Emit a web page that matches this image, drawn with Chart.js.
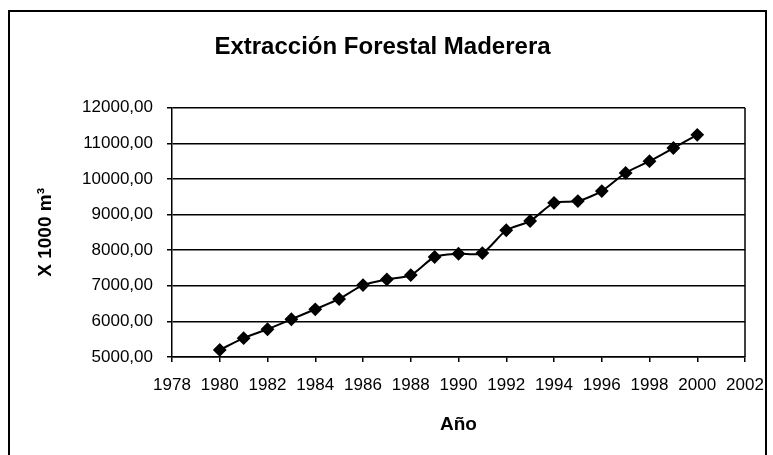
<!DOCTYPE html>
<html>
<head>
<meta charset="utf-8">
<script src="https://cdn.jsdelivr.net/npm/chart.js@4/dist/chart.umd.min.js"></script>
<style>
  html, body { margin: 0; padding: 0; background: #fff; }
  #wrap { width: 773px; height: 455px; position: relative; }
</style>
</head>
<body>
<div id="wrap"><canvas id="c" width="773" height="455"></canvas></div>
<script>
const years = [1980,1981,1982,1983,1984,1985,1986,1987,1988,1989,1990,1991,1992,1993,1994,1995,1996,1997,1998,1999,2000];
const extraction = [5200,5530,5780,6060,6340,6630,7020,7180,7300,7810,7900,7920,8560,8820,9330,9380,9660,10170,10500,10870,11240];
const chartTitle = 'Extracción Forestal Maderera';
const xTitle = 'Año';
const yTitle = 'X 1000 m³';

const FONT = '"Liberation Sans", Arial, sans-serif';

const outerBorder = {
  id: 'outerBorder',
  beforeDraw(chart) {
    const ctx = chart.ctx;
    ctx.save();
    ctx.fillStyle = '#fff';
    ctx.fillRect(0, 0, chart.width, chart.height);
    ctx.strokeStyle = '#000';
    ctx.lineWidth = 2;
    ctx.strokeRect(9, 11, 757, 460);
    ctx.restore();
  },
  afterDatasetsDraw(chart) {
    const {ctx, chartArea: a} = chart;
    ctx.save();
    ctx.strokeStyle = '#000';
    ctx.lineWidth = 1.5;
    ctx.beginPath();
    ctx.moveTo(a.right, a.top);
    ctx.lineTo(a.right, a.bottom);
    ctx.stroke();
    ctx.restore();
  }
};

new Chart(document.getElementById('c'), {
  type: 'line',
  data: {
    datasets: [{
      data: years.map((y, i) => ({x: y, y: extraction[i]})),
      borderColor: '#000',
      backgroundColor: '#000',
      borderWidth: 2,
      pointStyle: 'rectRot',
      pointRadius: 5.5,
      pointHoverRadius: 5.5,
      tension: 0.25,
      fill: false
    }]
  },
  options: {
    responsive: false,
    animation: false,
    events: [],
    layout: { padding: { left: 20, right: 28, top: 10, bottom: 0 } },
    plugins: {
      legend: { display: false },
      tooltip: { enabled: false },
      title: {
        display: true,
        text: chartTitle,
        color: '#000',
        font: { family: FONT, size: 24, weight: 'bold', lineHeight: 1.2 },
        padding: { top: 23, bottom: 46 }
      }
    },
    scales: {
      x: {
        type: 'linear',
        min: 1978, max: 2002,
        afterFit: s => { s.height = 98; s.paddingRight = 0; },
        border: { display: true, color: '#000', width: 1.5 },
        grid: { drawOnChartArea: false, drawTicks: true, tickLength: 5, color: '#000', lineWidth: 1.5 },
        ticks: {
          stepSize: 2,
          color: '#000',
          padding: 13,
          maxRotation: 0,
          autoSkip: false,
          font: { family: FONT, size: 17 },
          callback: v => String(v)
        },
        title: {
          display: true,
          text: xTitle,
          color: '#000',
          font: { family: FONT, size: 19, weight: 'bold', lineHeight: 1.2 },
          padding: { top: 0, bottom: 19 }
        }
      },
      y: {
        min: 5000, max: 12000,
        afterFit: s => { s.width = 152; },
        border: { display: true, color: '#000', width: 1.5 },
        grid: { drawOnChartArea: true, drawTicks: true, tickLength: 5, color: '#000', lineWidth: 1.5 },
        ticks: {
          stepSize: 1000,
          color: '#000',
          padding: 14,
          font: { family: FONT, size: 17 },
          callback: v => v.toFixed(2).replace('.', ',')
        },
        title: {
          display: true,
          text: yTitle,
          color: '#000',
          font: { family: FONT, size: 19, weight: 'bold', lineHeight: 1.2 },
          padding: { top: 14, bottom: 0 }
        }
      }
    }
  },
  plugins: [outerBorder]
});
</script>
</body>
</html>
